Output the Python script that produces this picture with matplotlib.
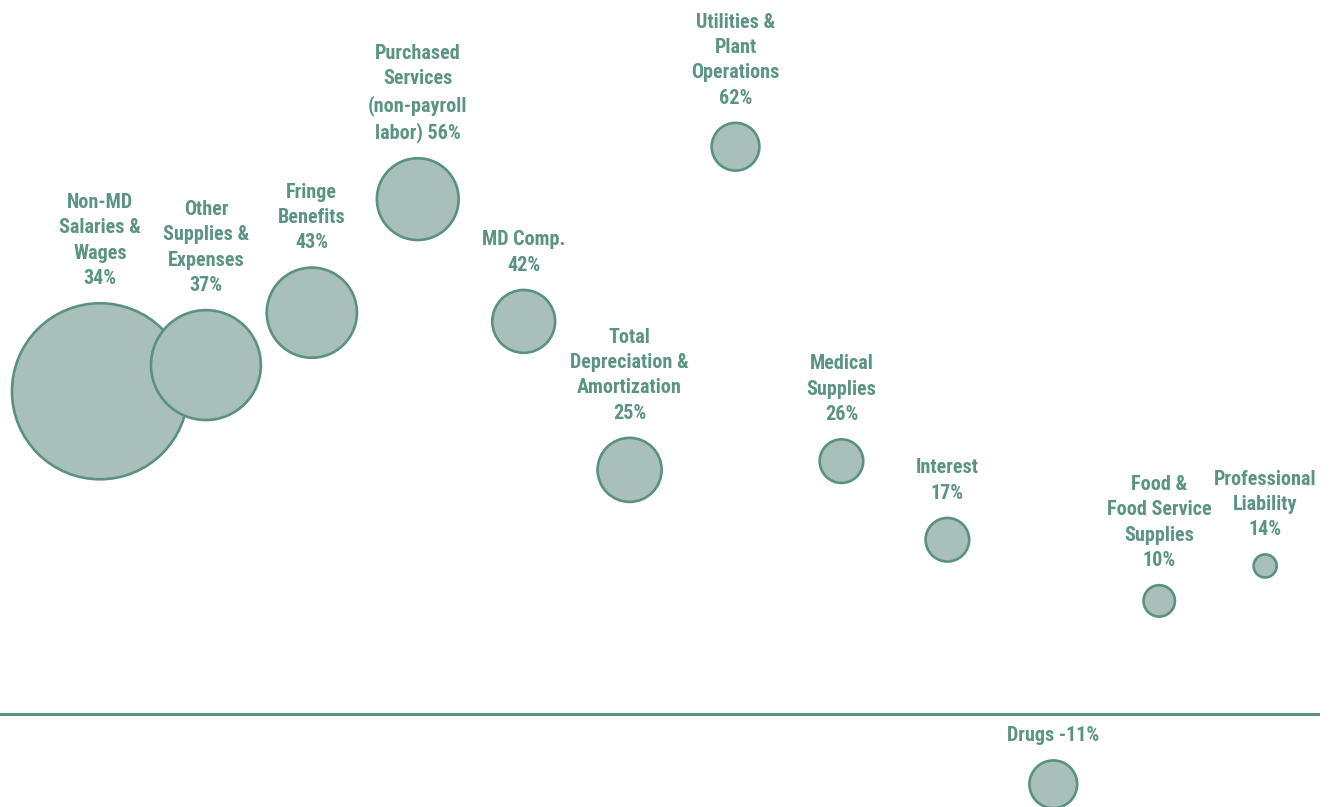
import matplotlib
matplotlib.use('Agg')
import matplotlib.pyplot as plt
import numpy as np

# Expense categories, growth (%) and share of total expense (%) for bubble area
label_templates = [
    'Non-MD\nSalaries &\nWages\n{}%',
    'Other\nSupplies &\nExpenses\n{}%',
    'Fringe\nBenefits\n{}%',
    'Purchased\nServices\n(non-payroll\nlabor) {}%',
    'MD Comp.\n{}%',
    'Total\nDepreciation &\nAmortization\n{}%',
    'Utilities &\nPlant\nOperations\n{}%',
    'Medical\nSupplies\n{}%',
    'Interest\n{}%',
    'Drugs {}%',
    'Food &\nFood Service\nSupplies\n{}%',
    'Professional\nLiability\n{}%',
]
growth_pct = [34, 37, 43, 56, 42, 25, 62, 26, 17, -11, 10, 14]
expense_share = [40.8, 15.9, 10.7, 8.8, 5.2, 5.4, 3.0, 2.5, 2.5, 3.0, 1.3, 0.7]
baseline = -3

FILL = '#a8bfba'
EDGE = '#5a9182'
TEXT = '#5b9384'

fig = plt.figure(figsize=(13.34, 8.07), dpi=100)
ax = fig.add_axes([0, 0, 1, 1])
ax.set_xlim(-0.944, 11.65)
ax.set_ylim(-13.6, 78.8)
ax.axis('off')

x = np.arange(len(growth_pct))
# bubble radius in points, area proportional to expense share
radius_pt = 13.78 * np.sqrt(expense_share) * 0.72
ax.scatter(x, growth_pct, s=(2 * radius_pt) ** 2, color=FILL, edgecolors=EDGE,
           linewidths=1.9, zorder=3)

ax.axhline(baseline, xmin=0, xmax=0.988, color=EDGE, linewidth=2.2, zorder=1)

font = ['Roboto Condensed', 'Liberation Sans Narrow', 'DejaVu Sans']
for xi, yi, r, tpl in zip(x, growth_pct, radius_pt, label_templates):
    ax.annotate(tpl.format(yi), (xi, yi), xytext=(0, r + 11), textcoords='offset points',
                ha='center', va='bottom', fontsize=14.5, fontweight='bold', color=TEXT,
                family=font, linespacing=1.42, zorder=4)

plt.savefig('out.png', dpi=100)
plt.close()
